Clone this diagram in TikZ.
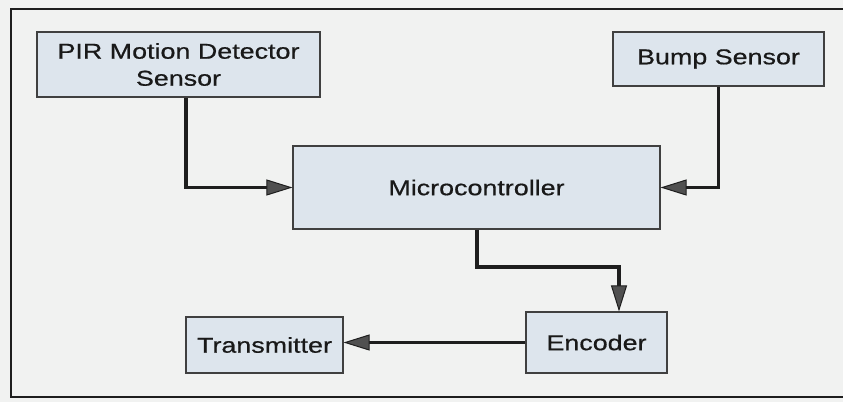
\documentclass[tikz,border=0pt]{standalone}
\usepackage{fontspec}
\setmainfont[FakeStretch=1.25,FakeBold=0.6]{Liberation Sans}
\usetikzlibrary{arrows.meta}
\definecolor{paper}{RGB}{241,242,241}
\definecolor{boxfill}{RGB}{221,229,237}
\definecolor{ink}{RGB}{30,30,30}
\definecolor{tipgray}{RGB}{80,80,80}
\tikzset{
  block/.style={draw=ink!85, line width=1.1pt, fill=boxfill, inner sep=0pt,
    align=center, font=\fontsize{21.5}{27}\selectfont, text=black!90},
  conn/.style={draw=ink, line width=3.5pt,
    -{Triangle[length=26pt,width=16pt,fill=tipgray,line width=1pt]}},
}
\begin{document}
\begin{tikzpicture}[x=1pt,y=-1pt]
  \useasboundingbox (0,0) rectangle (843,402);
  \fill[paper] (0,0) rectangle (843,402);
  \begin{scope}
    \clip (0,0) rectangle (843,402);
    \draw[ink, line width=2pt] (11,9) rectangle (860,397);
  \end{scope}

  \node[block, minimum width=283pt, minimum height=65pt] (pir) at (178.5,64.5)
    {PIR Motion Detector\\Sensor};
  \node[block, minimum width=211pt, minimum height=54pt] (bump) at (718.5,59)
    {Bump Sensor};
  \node[block, minimum width=367pt, minimum height=83pt] (mcu) at (476.5,187.5)
    {Microcontroller};
  \node[block, minimum width=141pt, minimum height=61pt] (enc) at (596.5,342.5)
    {Encoder};
  \node[block, minimum width=157pt, minimum height=56pt] (tx) at (264.5,345)
    {Transmitter};

  \coordinate (bend) at (619,267);
  \draw[conn] (pir.south -| 186,0) |- (mcu.west);
  \draw[conn] (bump.south) |- (mcu.east);
  \draw[conn] (mcu.south -| 477,0) |- (bend) -- (enc.north -| bend);
  \draw[conn] (enc.west) -- (tx.east |- enc.west);
\end{tikzpicture}
\end{document}
